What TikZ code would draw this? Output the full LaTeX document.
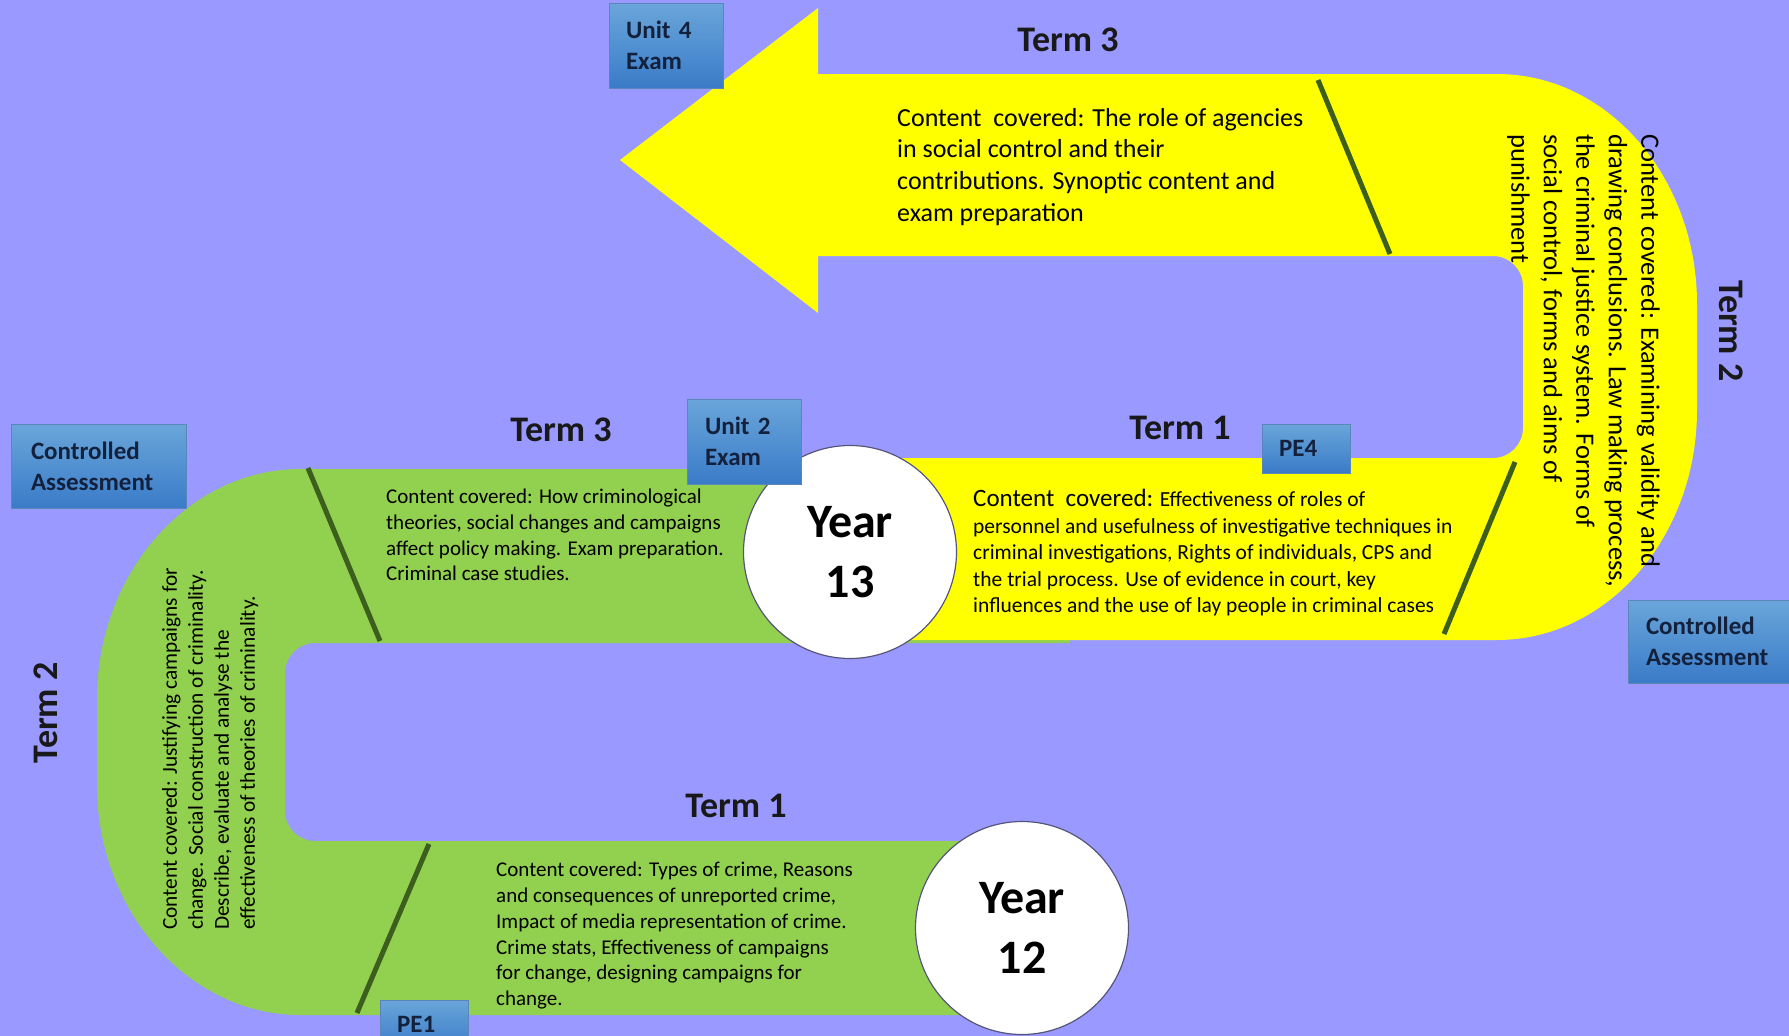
\documentclass[tikz,border=0pt]{standalone}
\usepackage{fontspec}
\setmainfont{Carlito}
\definecolor{bg}{HTML}{9999FF}
\definecolor{grn}{HTML}{92D050}
\definecolor{ylw}{HTML}{FFFF00}
\definecolor{divider}{HTML}{3C5F1E}
\definecolor{boxtop}{HTML}{6AA6DA}
\definecolor{boxbot}{HTML}{3A7BC8}
\definecolor{boxedge}{HTML}{5A86B8}
\definecolor{boxtxt}{HTML}{14213D}
\definecolor{ring}{HTML}{55557A}
\newcommand{\myfs}[2]{\fontsize{#1}{#2}\selectfont}
\tikzset{
  blk/.style={inner sep=0pt, anchor=north west, align=left, text=black},
  termlbl/.style={inner sep=0pt, font=\bfseries\myfs{36}{43}, text=black!90},
  yearc/.style={circle, fill=white, draw=ring, line width=1.2pt, minimum size=213pt, inner sep=0pt,
    align=center, font=\bfseries\myfs{48}{60}, text=black},
  tagbox/.style={draw=boxedge, line width=0.6pt, top color=boxtop, bottom color=boxbot,
    font=\bfseries\myfs{25}{31}, text=boxtxt, align=left, inner ysep=0pt},
  divline/.style={draw=divider, line width=5pt}
}
\begin{document}
\begin{tikzpicture}[x=1pt,y=-1pt]
\useasboundingbox (0,0) rectangle (1789,1036);
\clip (0,0) rectangle (1789,1036);
\fill[bg] (0,0) rectangle (1789,1036);

% green U band (Year 12 -> Year 13)
\fill[grn] (1070,469) -- (300,469)
  .. controls (189.5,469) and (97,572) .. (97,699) -- (97,785)
  .. controls (97,912) and (189.5,1015) .. (300,1015) -- (1000,1015) -- (1000,841) -- (315,841)
  .. controls (298.4,841) and (285,827.6) .. (285,811) -- (285,673)
  .. controls (285,656.4) and (298.4,643) .. (315,643) -- (1070,643) -- cycle;

% yellow band with arrow head
\fill[ylw] (620,160) -- (818,8) -- (818,74) -- (1497,74)
  .. controls (1607.5,74) and (1697,177) .. (1697,304) -- (1697,410)
  .. controls (1697,537) and (1607.5,640) .. (1497,640) -- (850,640) -- (850,458) -- (1493,458)
  .. controls (1509.6,458) and (1523,444.6) .. (1523,428) -- (1523,286)
  .. controls (1523,269.4) and (1509.6,256) .. (1493,256) -- (818,256) -- (818,313) -- cycle;

% dividers
\draw[divline] (1318,80) -- (1390,254);
\draw[divline] (1515,462) -- (1444,634);
\draw[divline] (308,468) -- (380,641);
\draw[divline] (429,844) -- (357,1013);

% year circles
\node[yearc] (y13) at (850,552) {Year\\13};
\node[yearc] (y12) at (1022,928) {Year\\12};

% term labels
\node[termlbl] (t3top) at (1068,40) {Term 3};
\node[termlbl] (t3mid) at (561,430) {Term 3};
\node[termlbl] (t1mid) at (1180,428) {Term 1};
\node[termlbl] (t1bot) at (736,806) {Term 1};
\node[termlbl, rotate=90] (t2left) at (46,713) {Term 2};
\node[termlbl, rotate=-90] (t2right) at (1731,331) {Term 2};

% content texts
\node[blk, font=\myfs{21}{25.8}] (cy12t1) at (496,862)
  {Content covered: Types of crime, Reasons\\and consequences of unreported crime,\\Impact of media representation of crime.\\Crime stats, Effectiveness of campaigns\\for change, designing campaigns for\\change.};
\node[blk, font=\myfs{21}{25.7}] (cy13t3a) at (386,489)
  {Content covered: How criminological\\theories, social changes and campaigns\\affect policy making. Exam preparation.\\Criminal case studies.};
\node[blk, font=\myfs{21.5}{26.5}] (cy13t1) at (973,489)
  {{\myfs{25}{30}Content\ \ covered:} Effectiveness of roles of\\personnel and usefulness of investigative techniques in\\criminal investigations, Rights of individuals, CPS and\\the trial process. Use of evidence in court, key\\influences and the use of lay people in criminal cases};
\node[blk, font=\myfs{26}{31.7}] (cy13t3b) at (897,108)
  {Content\ \ covered: The role of agencies\\in social control and their\\contributions. Synoptic content and\\exam preparation};
\node[blk, rotate=-90, font=\myfs{26.5}{32.5}] (cy13t2) at (1660,134)
  {Content covered: Examining validity and\\drawing conclusions. Law making process,\\the criminal justice system. Forms of\\social control, forms and aims of\\punishment};
\node[blk, rotate=90, font=\myfs{21.3}{26}] (cy12t2) at (162,930)
  {Content covered: Justifying campaigns for\\change. Social construction of criminality.\\Describe, evaluate and analyse the\\effectiveness of theories of criminality.};

% tag boxes
\node[tagbox, minimum width=114pt, minimum height=85pt, text width=80pt, inner xsep=17pt] (u4) at (666,45.5) {Unit 4\\Exam};
\node[tagbox, minimum width=114pt, minimum height=85pt, text width=78pt, inner xsep=18pt] (u2) at (744,441.5) {Unit 2\\Exam};
\node[tagbox, minimum width=88pt, minimum height=49pt, text width=54pt, inner xsep=17pt] (pe4) at (1306,448.5) {PE4};
\node[tagbox, minimum width=88pt, minimum height=49pt, text width=54pt, inner xsep=17pt] (pe1) at (424,1024.5) {PE1};
\node[tagbox, minimum width=175pt, minimum height=84pt, text width=135pt, inner xsep=20pt] (caleft) at (98.5,466) {Controlled\\Assessment};
\node[tagbox, minimum width=167pt, minimum height=83pt, text width=131pt, inner xsep=18pt] (caright) at (1711.5,641.5) {Controlled\\Assessment};
\end{tikzpicture}
\end{document}
